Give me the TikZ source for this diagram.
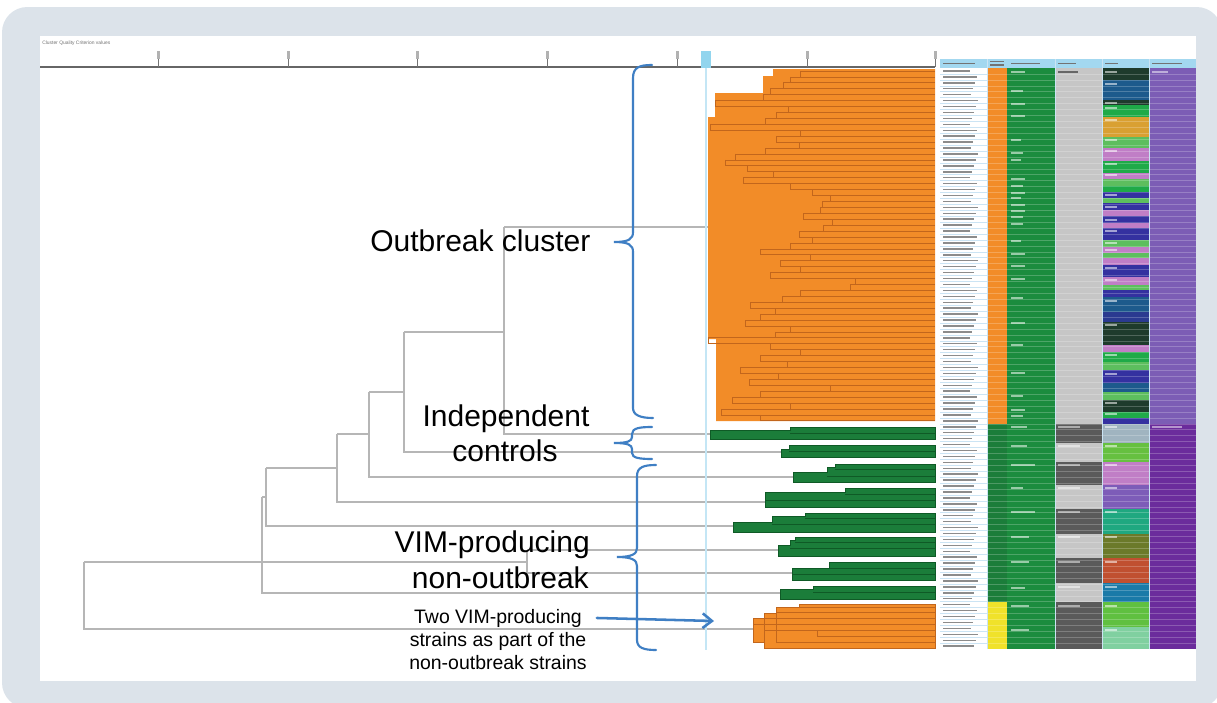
\documentclass[tikz,border=0pt]{standalone}
\usepackage{fontspec}
\setmainfont{Liberation Sans}
\usetikzlibrary{arrows.meta}
\definecolor{bgc}{HTML}{DCE3EA}
\definecolor{org}{HTML}{F28C28}
\definecolor{orgd}{HTML}{C2661C}
\definecolor{grn}{HTML}{1B7D3A}
\definecolor{grnd}{HTML}{0F5A26}
\definecolor{grn3}{HTML}{1B8C3E}
\definecolor{yel}{HTML}{F0E22A}
\definecolor{treec}{HTML}{B6B6B6}
\definecolor{bracec}{HTML}{3F7FC4}
\definecolor{markc}{HTML}{C4E6F5}
\definecolor{markd}{HTML}{92D5EE}
\definecolor{hdr}{HTML}{A3D8F0}
\definecolor{rowb}{HTML}{CBE4F4}
\definecolor{lgray}{HTML}{C6C6C6}
\definecolor{dgray}{HTML}{5A5A5A}
\definecolor{pur}{HTML}{7C5DB5}
\definecolor{purd}{HTML}{6B2C9C}
\definecolor{ck}{HTML}{1E3B2C}
\definecolor{cb}{HTML}{1D5A8C}
\definecolor{cg}{HTML}{1FAA48}
\definecolor{cgold}{HTML}{D9A032}
\definecolor{clg}{HTML}{5DBE5E}
\definecolor{cv}{HTML}{C07EC6}
\definecolor{ci}{HTML}{3431A0}
\definecolor{cn}{HTML}{2A3A90}
\definecolor{cgb}{HTML}{A0B4C0}
\definecolor{cyg}{HTML}{66C040}
\definecolor{cmp}{HTML}{7D5CB8}
\definecolor{ctg}{HTML}{1FA880}
\definecolor{col}{HTML}{6B7A2A}
\definecolor{cro}{HTML}{C05030}
\definecolor{cbt}{HTML}{1A7AA8}
\definecolor{cgr}{HTML}{60C040}
\definecolor{cmint}{HTML}{80D0A0}
\tikzset{
  treeline/.style={draw=treec, line width=1.1pt},
  brc/.style={draw=bracec, line width=1.6pt, line cap=round},
  bigtxt/.style={font=\fontsize{22.5pt}{26pt}\selectfont, inner sep=0pt},
  smalltxt/.style={font=\fontsize{14.6pt}{17pt}\selectfont, inner sep=0pt},
  orgline/.style={draw=orgd, line width=0.55pt},
  gbar/.style={fill=grn, draw=grnd, line width=0.5pt},
  obar/.style={fill=org, draw=orgd, line width=0.5pt},
  namel/.style={draw=black!45, line width=1.1pt},
  lab/.style={draw=white, opacity=0.55, line width=1pt},
}
\begin{document}
\begin{tikzpicture}[x=0.75pt,y=-0.75pt]
\useasboundingbox (0,0) rectangle (1217,703);
% background panels
\fill[bgc, rounded corners=19pt] (2,7) rectangle (1222,708);
\fill[white] (40,36) rectangle (1196,681);
% title
\node[anchor=base west, inner sep=0pt, text=black!55, font=\fontsize{3.7pt}{4pt}\selectfont] (ttl) at (42,44) {Cluster Quality Criterion values};
% axis
\draw[draw=black!60, line width=1.2pt] (40,67) -- (935,67);
\foreach \tx in {158,288,417,547,677,807,935} {
  \draw[draw=black!55, line width=0.7pt] (\tx,54) -- (\tx,67);
  \fill[black!30] (\tx-1.5,51) rectangle (\tx+1.5,59);
}
% gray dendrogram
\draw[treeline] (504,227) -- (708,227);
\draw[treeline] (504,227) -- (504,434) -- (710,434);
\draw[treeline] (404,332) -- (504,332);
\draw[treeline] (404,332) -- (404,452) -- (781,452);
\draw[treeline] (369,392) -- (404,392);
\draw[treeline] (369,392) -- (369,477) -- (793,477);
\draw[treeline] (337,434) -- (369,434);
\draw[treeline] (337,434) -- (337,502) -- (765,502);
\draw[treeline] (266,468) -- (337,468);
\draw[treeline] (266,468) -- (266,526) -- (733,526);
\draw[treeline] (262,497) -- (266,497);
\draw[treeline] (262,497) -- (262,593) -- (780,593);
\draw[treeline] (84,562) -- (527,562);
\draw[treeline] (527,550) -- (527,573);
\draw[treeline] (527,550) -- (778,550);
\draw[treeline] (527,573) -- (792,573);
\draw[treeline] (84,562) -- (84,629) -- (753,629);
% marker
\draw[draw=markc, line width=2pt] (706,60) -- (706,650);
\fill[markd] (701,51) rectangle (711,68);
% orange outbreak cluster
\fill[org] (935,69) -- (773,69) -- (773,76) -- (763,76) -- (763,93) -- (715,93) -- (715,117) -- (708,117) -- (708,339) -- (716,339) -- (716,421) -- (935,421) -- cycle;
\foreach \m [count=\k from 0] in {800,790,783,770,763,715,788,776,765,710,800,776,799,765,735,725,747,773,743,790,812,830,822,820,803,832,823,799,812,790,760,810,780,800,770,855,850,800,782,750,775,760,745,790,775,708,770,800,760,787,740,778,749,830,760,732,790,721,760} {
  \pgfmathsetmacro\ya{68+5.93*(\k+0.5)}
  \pgfmathsetmacro\yb{68+5.93*(\k+1.5)}
  \draw[orgline] (\m,\ya) -- (\m,\yb);
  \draw[orgline] (\m,\ya) -- (935,\ya) (\m,\yb) -- (935,\yb);
}
% green leaf bars
\draw[gbar] (710,430) -- (790,430) -- (790,427) -- (935,427) -- (935,439) -- (710,439) -- cycle;
\draw[grnd, line width=0.5pt] (790,433) -- (935,433);
\draw[gbar] (781,449) -- (789,449) -- (789,445) -- (935,445) -- (935,457) -- (781,457) -- cycle;
\draw[grnd, line width=0.5pt] (789,451) -- (935,451);
\draw[gbar] (793,472) -- (827,472) -- (827,467) -- (835,467) -- (835,464) -- (935,464) -- (935,482) -- (793,482) -- cycle;
\draw[grnd, line width=0.5pt] (835,469) -- (935,469) (827,476) -- (935,476);
\draw[gbar] (765,492) -- (845,492) -- (845,488) -- (935,488) -- (935,507) -- (765,507) -- cycle;
\draw[grnd, line width=0.5pt] (845,494) -- (935,494) (765,500) -- (935,500);
\draw[gbar] (733,522) -- (772,522) -- (772,516) -- (805,516) -- (805,513) -- (935,513) -- (935,532) -- (733,532) -- cycle;
\draw[grnd, line width=0.5pt] (805,518) -- (935,518) (772,524) -- (935,524);
\draw[gbar] (778,545) -- (790,545) -- (790,540) -- (795,540) -- (795,537) -- (935,537) -- (935,556) -- (778,556) -- cycle;
\draw[grnd, line width=0.5pt] (795,542) -- (935,542) (790,548) -- (935,548);
\draw[gbar] (792,568) -- (829,568) -- (829,562) -- (935,562) -- (935,580) -- (792,580) -- cycle;
\draw[grnd, line width=0.5pt] (829,568) -- (935,568) (792,574) -- (935,574);
\draw[gbar] (780,589) -- (813,589) -- (813,586) -- (935,586) -- (935,599) -- (780,599) -- cycle;
\draw[grnd, line width=0.5pt] (813,592) -- (935,592);
% bottom orange
\draw[obar] (799,604) -- (935,604) -- (935,648) -- (764,648) -- (764,642) -- (753,642) -- (753,618) -- (764,618) -- (764,613) -- (776,613) -- (776,607) -- (799,607) -- cycle;
\draw[orgline] (799,607) -- (935,607) (776,612) -- (935,612) (764,618) -- (935,618) (753,624) -- (935,624) (764,630) -- (935,630) (817,630) -- (817,636) -- (935,636) (776,642) -- (935,642) (776,612) -- (776,642) (764,618) -- (764,645);
% table
\fill[hdr] (940,59) rectangle (1196,68);
\fill[org] (987,68) rectangle (1007,424);
\fill[grn] (987,424) rectangle (1007,602);
\fill[yel] (987,602) rectangle (1007,649);
\fill[grn3] (1007,68) rectangle (1055,649);
\fill[lgray] (1055,68) rectangle (1102,424);
\foreach \a/\b/\c in {424/443/dgray,443/462/lgray,462/485/dgray,485/509/lgray,509/534/dgray,534/558/lgray,558/583/dgray,583/602/lgray,602/649/dgray} {
  \fill[\c] (1055,\a) rectangle (1102,\b);
}
\foreach \a/\b/\c in {68/80/ck,80/100/cb,100/105/ck,105/117/cg,117/137/cgold,137/148/clg,148/161/cv,161/173/cg,173/179/cv,179/186/clg,186/192/cg,192/198/ci,198/203/clg,203/210/ci,210/216/cv,216/223/ci,223/228/cv,228/240/ci,240/247/clg,247/253/cv,253/258/clg,258/265/cv,265/277/ci,277/285/cv,285/290/clg,290/297/ci,297/312/cb,312/322/cn,322/345/ck,345/352/cv,352/362/cg,362/370/clg,370/383/ci,383/392/cb,392/400/clg,400/412/ck,412/418/cg,418/424/ci,424/443/cgb,443/462/cyg,462/485/cv,485/509/cmp,509/534/ctg,534/558/col,558/583/cro,583/602/cbt,602/627/cgr,627/649/cmint} {
  \fill[\c] (1102,\a) rectangle (1149,\b);
}
\fill[pur] (1149,68) rectangle (1196,424);
\fill[purd] (1149,424) rectangle (1196,649);
\foreach \r in {1,...,97} {
  \pgfmathsetmacro\yy{68+5.93*\r}
  \draw[draw=rowb, line width=0.4pt] (940,\yy) -- (987,\yy);
  \draw[draw=white, opacity=0.22, line width=0.4pt] (987,\yy) -- (1196,\yy);
}
\foreach \r in {0,...,97} {
  \pgfmathsetmacro\yy{68+5.93*(\r+0.5)}
  \pgfmathsetmacro\ll{27+mod(\r*7,9)}
  \draw[namel] (943,\yy) -- ++(\ll,0);
}
\foreach \xx in {987,1055,1102,1149} {
  \draw[draw=rowb, line width=0.5pt] (\xx,59) -- (\xx,649);
}
% header marks
\draw[draw=black!55, line width=1pt] (943,63.5) -- (975,63.5) (990,61.5) -- (1004,61.5) (990,65) -- (1004,65) (1011,63.5) -- (1040,63.5) (1058,63.5) -- (1076,63.5) (1105,63.5) -- (1118,63.5) (1152,63.5) -- (1182,63.5);
% small labels in columns
\foreach \yy/\ll in {72/14,91/12,104/14,116/14,140/10,153/12,160/10,179/14,186/12,193/14,198/10,205/14,211/14,217/12,224/12,241/10,254/14,266/14,279/14,298/12,323/14,345/12,373/14,396/12,410/14,416/12,427/16,446/16,465/24,488/12,512/24,537/18,562/18,588/14,606/18,630/18} {
  \draw[lab] (1011,\yy) -- ++(\ll,0);
}
\foreach \yy in {427,446,465,488,512,537,562,587,606} {
  \draw[draw=white, opacity=0.5, line width=1pt] (1058,\yy) -- ++(22,0);
}
\draw[draw=black!60, line width=1pt] (1058,72) -- ++(20,0);
\foreach \yy in {72,84,103,108,120,140,151,164,175,195,207,220,231,243,250,268,280,301,325,355,374,403,414,427,446,465,488,512,537,562,587,606,630} {
  \draw[draw=white, opacity=0.55, line width=1pt] (1105,\yy) -- ++(12,0);
}
\draw[draw=white, opacity=0.5, line width=1pt] (1152,72) -- ++(16,0) (1152,427) -- ++(30,0);
% texts
\node[bigtxt, anchor=base west] (oc) at (370,251) {Outbreak cluster};
\node[bigtxt, anchor=base] (ic1) at (506,426) {Independent};
\node[bigtxt, anchor=base] (ic2) at (505,461) {controls};
\node[bigtxt, anchor=base east] (vim1) at (590,552) {VIM-producing};
\node[bigtxt, anchor=base east] (vim2) at (589,588) {non-outbreak};
\node[smalltxt, anchor=base] (two1) at (498,623) {Two VIM-producing};
\node[smalltxt, anchor=base] (two2) at (498,646) {strains as part of the};
\node[smalltxt, anchor=base] (two3) at (498,669) {non-outbreak strains};
% braces
\draw[brc] (652,65) .. controls (640,65) and (633,67) .. (633,78) -- (633,232) .. controls (633,239) and (629,242) .. (614,242) .. controls (629,242) and (633,245) .. (633,252) -- (633,408) .. controls (633,415) and (640,418) .. (653,418);
\draw[brc] (652,427) .. controls (640,427) and (632,428) .. (632,434) -- (632,437) .. controls (632,441) and (628,443) .. (614,443) .. controls (628,443) and (632,445) .. (632,449) -- (632,453) .. controls (632,458) and (640,459) .. (652,459);
\draw[brc] (656,465) .. controls (644,465) and (637,467) .. (637,476) -- (637,548) .. controls (637,554) and (632,557) .. (617,557) .. controls (632,557) and (637,560) .. (637,566) -- (637,640) .. controls (637,648) and (644,650) .. (656,650);
% arrow
\coordinate (arrend) at (714,621);
\draw[brc, line width=1.9pt, -{Straight Barb[length=7pt,width=11pt]}] ([xshift=11pt]two1.east) -- (arrend);
\end{tikzpicture}
\end{document}
